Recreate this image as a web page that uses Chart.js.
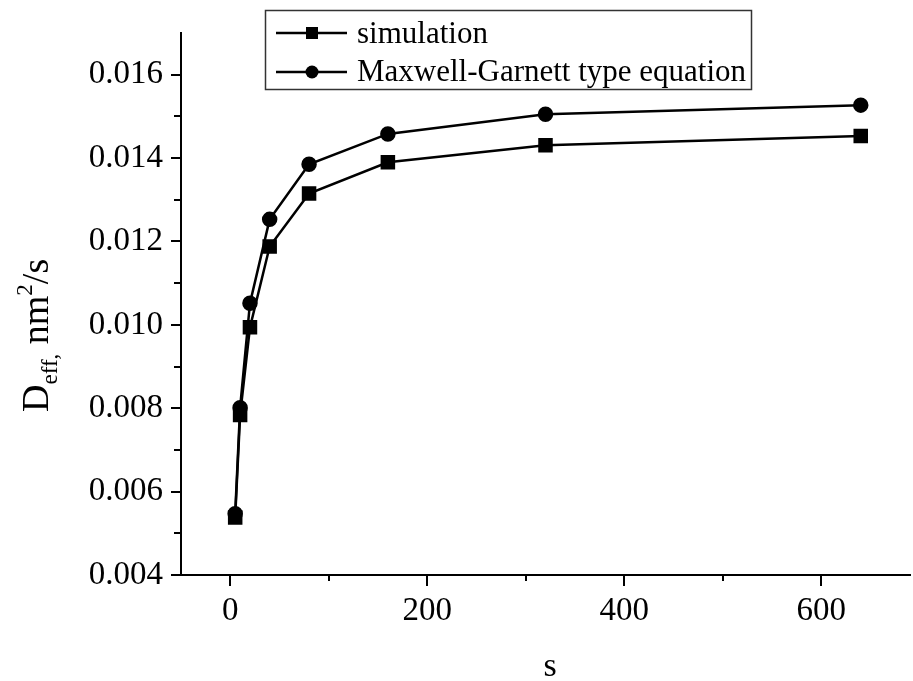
<!DOCTYPE html>
<html>
<head>
<meta charset="utf-8">
<script src="https://cdn.jsdelivr.net/npm/chart.js@4.4.1/dist/chart.umd.min.js"></script>
<style>
  html, body { margin: 0; padding: 0; background: #fff; overflow: hidden; }
  #deffChart { display: block; }
</style>
</head>
<body>
<canvas id="deffChart" width="913" height="681"></canvas>
<script>
// s values (x) and D_eff values
var sValues = [5, 10, 20, 40, 80, 160, 320, 640];
var simulation = [0.00538, 0.00784, 0.00994, 0.01188, 0.01315, 0.01390, 0.01431, 0.01453];
var maxwellGarnett = [0.00547, 0.00801, 0.01052, 0.01253, 0.01385, 0.01458, 0.01505, 0.01527];
var seriesLabels = ["simulation", "Maxwell-Garnett type equation"];
var xTicks = [0, 100, 200, 300, 400, 500, 600];
var xTickLabels = [0, 200, 400, 600];
var yTicks = [0.004, 0.005, 0.006, 0.007, 0.008, 0.009, 0.010, 0.011, 0.012, 0.013, 0.014, 0.015, 0.016];
var yTickLabels = [0.004, 0.006, 0.008, 0.010, 0.012, 0.014, 0.016];

var serif = "'Liberation Serif', 'Times New Roman', serif";

function toPoints(xs, ys) {
  return xs.map(function (x, i) { return { x: x, y: ys[i] }; });
}

// tick marks, axis titles and the boxed legend
var decor = {
  id: 'decor',
  afterDraw: function (chart) {
    var ctx = chart.ctx, a = chart.chartArea;
    var xs = chart.scales.x, ys = chart.scales.y;
    ctx.save();
    ctx.strokeStyle = '#000';
    ctx.lineWidth = 2;
    ctx.beginPath();
    xs.ticks.forEach(function (t) {
      var px = Math.round(xs.getPixelForValue(t.value));
      var len = xTickLabels.indexOf(t.value) >= 0 ? 11 : 6;
      ctx.moveTo(px, a.bottom); ctx.lineTo(px, a.bottom + len);
    });
    ys.ticks.forEach(function (t) {
      var py = Math.round(ys.getPixelForValue(t.value));
      var len = yTickLabels.indexOf(t.value) >= 0 ? 10 : 7;
      ctx.moveTo(a.left, py); ctx.lineTo(a.left - len, py);
    });
    ctx.stroke();

    // x title
    ctx.fillStyle = '#000';
    ctx.font = '34px ' + serif;
    ctx.textAlign = 'center';
    ctx.textBaseline = 'alphabetic';
    ctx.fillText('s', 550, 676);

    // y title with subscript and superscript
    ctx.save();
    ctx.translate(48, 412);
    ctx.rotate(-Math.PI / 2);
    ctx.textAlign = 'left';
    var parts = [
      { t: 'D', size: 38, dy: 0 },
      { t: 'eff,', size: 23, dy: 9 },
      { t: ' nm', size: 38, dy: 0 },
      { t: '2', size: 23, dy: -16 },
      { t: '/s', size: 38, dy: 0 }
    ];
    var cx = 0;
    parts.forEach(function (p) {
      ctx.font = p.size + 'px ' + serif;
      ctx.fillText(p.t, cx, p.dy);
      cx += ctx.measureText(p.t).width;
    });
    ctx.restore();

    // legend
    ctx.lineWidth = 1.5;
    ctx.strokeStyle = '#333';
    ctx.strokeRect(265.5, 10.5, 486, 79);
    var rows = [{ y: 33, base: 43, style: 'rect' }, { y: 72, base: 81, style: 'circle' }];
    rows.forEach(function (r, i) {
      ctx.strokeStyle = '#000';
      ctx.lineWidth = 2.5;
      ctx.beginPath();
      ctx.moveTo(276, r.y); ctx.lineTo(347, r.y);
      ctx.stroke();
      ctx.beginPath();
      if (r.style === 'rect') ctx.rect(306, r.y - 6, 12, 12);
      else ctx.arc(312, r.y, 6.5, 0, Math.PI * 2);
      ctx.fill();
      ctx.font = '31px ' + serif;
      ctx.textAlign = 'left';
      ctx.fillText(seriesLabels[i], 357, r.base);
    });
    ctx.restore();
  }
};

new Chart(document.getElementById('deffChart'), {
  type: 'line',
  data: {
    datasets: [{
      label: seriesLabels[0],
      data: toPoints(sValues, simulation),
      borderColor: '#000',
      backgroundColor: '#000',
      borderWidth: 2.5,
      pointStyle: 'rect',
      pointRadius: 8.5,
      pointHoverRadius: 8.5
    }, {
      label: seriesLabels[1],
      data: toPoints(sValues, maxwellGarnett),
      borderColor: '#000',
      backgroundColor: '#000',
      borderWidth: 2.5,
      pointStyle: 'circle',
      pointRadius: 6.5,
      pointHoverRadius: 6.5
    }]
  },
  options: {
    responsive: false,
    animation: false,
    layout: { autoPadding: false, padding: { left: 0, top: 33, right: 3, bottom: 0 } },
    plugins: { legend: { display: false }, tooltip: { enabled: false } },
    scales: {
      x: {
        type: 'linear',
        min: -50,
        max: 690,
        afterBuildTicks: function (s) { s.ticks = xTicks.map(function (v) { return { value: v }; }); },
        afterFit: function (s) { s.height = 106; s.paddingLeft = 0; s.paddingRight = 0; },
        grid: { display: false, drawTicks: false },
        border: { display: true, color: '#000', width: 2 },
        ticks: {
          autoSkip: false,
          maxRotation: 0,
          padding: 17,
          color: '#000',
          font: { family: serif, size: 33 },
          callback: function (v) { return xTickLabels.indexOf(v) >= 0 ? String(v) : ''; }
        }
      },
      y: {
        min: 0.004,
        max: 0.017,
        afterBuildTicks: function (s) { s.ticks = yTicks.map(function (v) { return { value: v }; }); },
        afterFit: function (s) { s.width = 181; s.paddingTop = 0; s.paddingBottom = 0; },
        grid: { display: false, drawTicks: false },
        border: { display: true, color: '#000', width: 2 },
        ticks: {
          autoSkip: false,
          padding: 18,
          color: '#000',
          font: { family: serif, size: 33 },
          callback: function (v) { return yTickLabels.indexOf(v) >= 0 ? v.toFixed(3) : ''; }
        }
      }
    }
  },
  plugins: [decor]
});
</script>
</body>
</html>
